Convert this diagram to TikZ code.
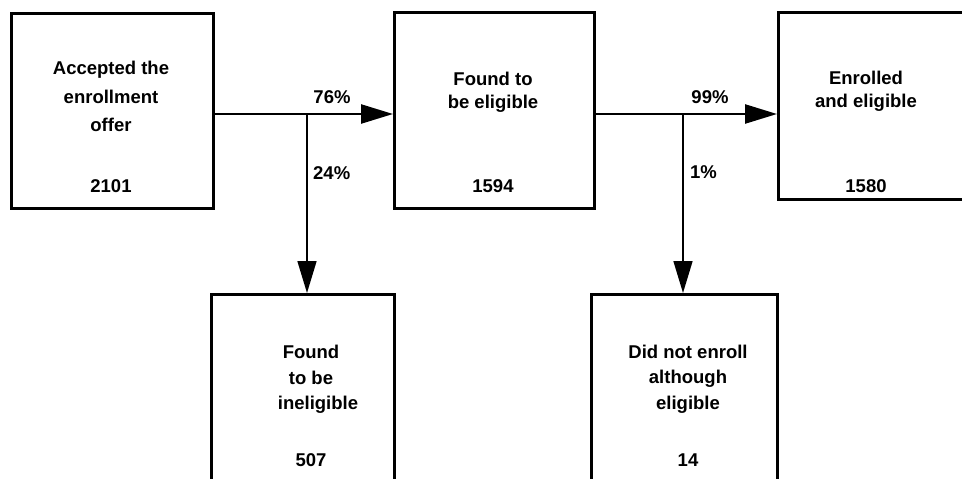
\documentclass[tikz,border=0pt]{standalone}
\usepackage{fontspec}
\setmainfont{Liberation Sans}
\usetikzlibrary{arrows.meta}
\begin{document}
\begin{tikzpicture}[x=1pt,y=-1pt,
  box/.style={draw, line width=2.6pt, inner sep=0pt, anchor=north west},
  txt/.style={font=\bfseries\fontsize{18.5}{22}\selectfont, align=center, inner sep=0pt},
  flow/.style={line width=2.4pt, -{Triangle[length=32pt,width=19pt]}},
  drop/.style={line width=1.6pt, -{Triangle[length=32pt,width=19pt]}},
  pct/.style={font=\bfseries\fontsize{18.5}{22}\selectfont, inner sep=0pt}]
\useasboundingbox (0,0) rectangle (962,479);
\clip (0,0) rectangle (962,479);

% boxes
\node[box, minimum width=202pt, minimum height=195pt] (b1) at (10,12) {};
\node[box, minimum width=200pt, minimum height=196pt] (b2) at (393,11) {};
\node[box, minimum width=200pt, minimum height=187pt] (b3) at (777,11) {};
\node[box, minimum width=183pt, minimum height=200pt] (b4) at (210,293) {};
\node[box, minimum width=186pt, minimum height=200pt] (b5) at (590,293) {};

% box texts
\node[txt] (t1) at (111,70) {Accepted the};
\node[txt] (t1b) at (111,97) {enrollment};
\node[txt] (t1c) at (111,125) {offer};
\node[txt] (n1) at (111,186) {2101};

\node[txt] (t2) at (493,79) {Found to};
\node[txt] (t2b) at (493,104) {be eligible};
\node[txt] (n2) at (493,186) {1594};

\node[txt] (t3) at (866,78) {Enrolled};
\node[txt] (t3b) at (866,103) {and eligible};
\node[txt] (n3) at (866,186) {1580};

\node[txt] (t4) at (311,352) {Found};
\node[txt] (t4b) at (311,378) {to be};
\node[txt] (t4c) at (318,405) {ineligible};
\node[txt] (n4) at (311,460) {507};

\node[txt] (t5) at (688,352) {Did not enroll};
\node[txt] (t5b) at (688,379) {although};
\node[txt] (t5c) at (688,405) {eligible};
\node[txt] (n5) at (688,460) {14};

% junctions on the flow lines
\coordinate (j1) at (307,114);
\coordinate (j2) at (683,114);

% connectors
\draw[flow] (j1 -| b1.east) -- (j1 -| b2.west);
\draw[drop] (j1) -- (j1 |- b4.north);
\draw[flow] (j2 -| b2.east) -- (j2 -| b3.west);
\draw[drop] (j2) -- (j2 |- b5.north);

% percentages
\node[pct] (p76) at (332,97) {76\%};
\node[pct, anchor=west] (p24) at (313,173) {24\%};
\node[pct] (p99) at (710,97) {99\%};
\node[pct, anchor=west] (p1) at (690,172) {1\%};
\end{tikzpicture}
\end{document}
